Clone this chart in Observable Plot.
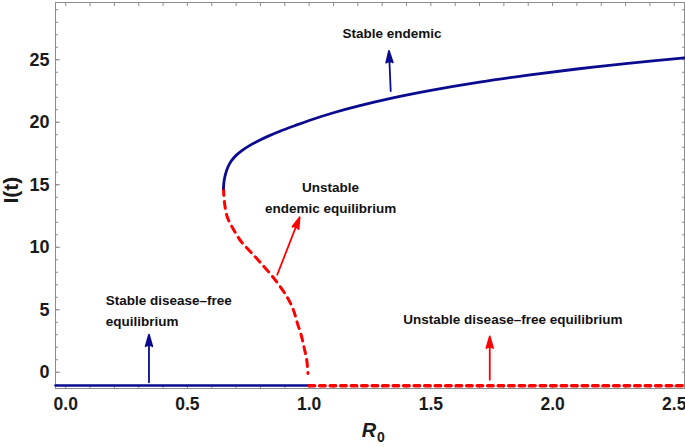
<!DOCTYPE html>
<html>
<head>
<meta charset="utf-8">
<script src="https://cdn.jsdelivr.net/npm/d3@7"></script>
<script src="https://cdn.jsdelivr.net/npm/@observablehq/plot@0.6"></script>
<style>
  html, body { margin: 0; padding: 0; background: #fff; }
</style>
</head>
<body>
<div id="chart"></div>
<script>
// ---- data ----
const xTickValues = [0, 0.5, 1.0, 1.5, 2.0, 2.5];
const yTickValues = [0, 5, 10, 15, 20, 25];
const xMinorTicks = d3.range(0, 26).map(i => i / 10);
const yMinorTicks = d3.range(-1, 30);

// stable endemic branch (solid blue)
const stableEndemicR0 = [0.648, 0.6505, 0.6565, 0.666, 0.68, 0.70, 0.725, 0.755, 0.79, 0.83, 0.88, 0.94, 1.0, 1.1, 1.2, 1.335, 1.5, 1.7, 1.9, 2.1, 2.3, 2.542];
const stableEndemicI  = [14.7, 15.3, 15.85, 16.4, 16.9, 17.35, 17.75, 18.13, 18.5, 18.87, 19.28, 19.72, 20.14, 20.76, 21.29, 21.91, 22.55, 23.21, 23.77, 24.26, 24.69, 25.15];

// unstable endemic branch (dashed red)
const unstableEndemicR0 = [0.648, 0.652, 0.664, 0.69, 0.719, 0.756, 0.794, 0.856, 0.91, 0.935, 0.952, 0.967, 0.979, 0.99, 0.995];
const unstableEndemicI  = [14.7, 13.6, 12.4, 11.4, 10.5, 9.7, 8.9, 7.5, 6.0, 5.0, 3.9, 3.0, 2.0, 1.0, -0.1];

// disease-free equilibrium
const stableDfeR0 = [-0.042, 1.0];
const stableDfeI = [-1.05, -1.05];
const unstableDfeR0 = [1.0, 2.542];
const unstableDfeI = [-1.08, -1.08];

// annotations (centred)
const centerText = ["Stable endemic", "Unstable", "endemic equilibrium"];
const centerR0   = [1.34, 1.088, 1.088];
const centerI    = [27.1, 14.8, 13.1];
// annotations (left-aligned)
const leftText = ["Stable disease\u2013free", "equilibrium", "Unstable disease\u2013free equilibrium"];
const leftR0   = [0.164, 0.164, 1.387];
const leftI    = [5.7, 4.05, 4.2];

const arrowFromR0 = [1.335, 0.869, 0.342, 1.742];
const arrowFromI  = [22.5, 7.8, -0.8, -0.6];
const arrowToR0   = [1.328, 0.961, 0.342, 1.742];
const arrowToI    = [25.7, 12.4, 3.0, 2.86];
const arrowColor  = ["#0b0b8f", "#ff0000", "#0b0b8f", "#ff0000"];

// ---- build ----
const BLUE = "#0b0b8f", RED = "#ff0000", GRAY = "#8c8c8c";
const zip = (xs, ys) => xs.map((x, i) => ({x, y: ys[i]}));
const stableEndemic = zip(stableEndemicR0, stableEndemicI);
const unstableEndemic = zip(unstableEndemicR0, unstableEndemicI);
const stableDfe = zip(stableDfeR0, stableDfeI);
const unstableDfe = zip(unstableDfeR0, unstableDfeI);
const centerLabels = centerText.map((t, i) => ({t, x: centerR0[i], y: centerI[i]}));
const leftLabels = leftText.map((t, i) => ({t, x: leftR0[i], y: leftI[i]}));
const arrows = arrowFromR0.map((x1, i) => ({x1, y1: arrowFromI[i], x2: arrowToR0[i], y2: arrowToI[i], c: arrowColor[i]}));

const chart = Plot.plot({
  width: 685,
  height: 447,
  marginLeft: 55,
  marginRight: 1,
  marginTop: 2,
  marginBottom: 59,
  style: {fontFamily: "'Liberation Sans', Arial, sans-serif", background: "#fff", color: "#1a1a1a"},
  x: {domain: [-0.042, 2.542]},
  y: {domain: [-1.3, 29.58]},
  marks: [
    Plot.frame({stroke: GRAY}),
    // minor / major ticks (inward, mirrored)
    Plot.axisX({anchor: "bottom", ticks: xMinorTicks, tickSize: -3, tickFormat: () => "", stroke: GRAY, label: null}),
    Plot.axisX({anchor: "top", ticks: xMinorTicks, tickSize: -3, tickFormat: () => "", stroke: GRAY, label: null}),
    Plot.axisY({anchor: "left", ticks: yMinorTicks, tickSize: -3, tickFormat: () => "", stroke: GRAY, label: null}),
    Plot.axisY({anchor: "right", ticks: yMinorTicks, tickSize: -3, tickFormat: () => "", stroke: GRAY, label: null}),
    Plot.axisY({anchor: "left", ticks: yTickValues, tickSize: -5, tickFormat: () => "", stroke: GRAY, label: null}),
    // tick labels
    Plot.axisX({anchor: "bottom", ticks: xTickValues, tickSize: 0, tickPadding: 9, tickFormat: d3.format(".1f"), fontSize: 17.5, fontWeight: "bold", label: null}),
    Plot.axisY({anchor: "left", ticks: yTickValues, tickSize: 0, tickPadding: 6, fontSize: 18, fontWeight: "bold", label: null}),
    // curves
    Plot.line(stableDfe, {x: "x", y: "y", stroke: BLUE, strokeWidth: 2.5}),
    Plot.line(unstableDfe, {x: "x", y: "y", stroke: RED, strokeWidth: 3.5, strokeDasharray: "5.5,5"}),
    Plot.line(unstableEndemic, {x: "x", y: "y", stroke: RED, strokeWidth: 3, strokeDasharray: "7,6", curve: "catmull-rom"}),
    Plot.line(stableEndemic, {x: "x", y: "y", stroke: BLUE, strokeWidth: 2.8, curve: "catmull-rom"}),
    // arrows
    Plot.arrow(arrows, {x1: "x1", y1: "y1", x2: "x2", y2: "y2", stroke: "c", fill: "c", strokeWidth: 1.8, headLength: 10, headAngle: 32}),
    // annotations
    Plot.text(centerLabels, {x: "x", y: "y", text: "t", textAnchor: "middle", fontSize: 13.5, fontWeight: "bold", fill: "#111"}),
    Plot.text(leftLabels, {x: "x", y: "y", text: "t", textAnchor: "start", fontSize: 13.5, fontWeight: "bold", fill: "#111"}),
    // axis titles
    Plot.text(["I(t)"], {frameAnchor: "left", dx: -44, dy: 8, rotate: -90, fontSize: 21, fontWeight: "bold", fill: "#1a1a1a"}),
    Plot.text(["R"], {frameAnchor: "bottom", dx: -1, dy: 48, fontSize: 20, fontWeight: "bold", fontStyle: "italic", fill: "#1a1a1a"}),
    Plot.text(["0"], {frameAnchor: "bottom", dx: 11, dy: 53, fontSize: 14, fontWeight: "bold", fill: "#1a1a1a"})
  ]
});
document.getElementById("chart").appendChild(chart);
</script>
</body>
</html>
